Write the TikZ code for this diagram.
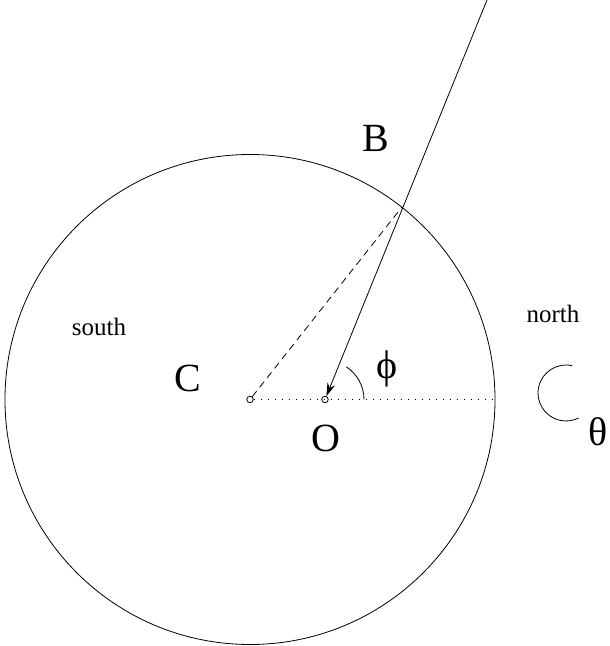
\documentclass[tikz,border=0pt]{standalone}
\usepackage{fontspec}
\setmainfont{Liberation Serif}
\usepackage{tikz}
\usetikzlibrary{arrows.meta}
\tikzset{
    dot/.style={circle, draw, fill=white, inner sep=0pt, minimum size=6.5pt, line width=0.8pt},
    edge/.style={draw, line width=0.8pt, -{Stealth[length=13pt, width=8pt]}},
    longdash/.style={dash pattern=on 7pt off 5pt},
    sparsedot/.style={dash pattern=on 1pt off 6pt},
    biglabel/.style={font=\fontsize{40}{40}\selectfont, inner sep=0pt},
    smalllabel/.style={font=\fontsize{25}{25}\selectfont, inner sep=0pt}
}

\begin{document}
\begin{tikzpicture}[x=1pt, y=1pt, line width=0.8pt]
    \useasboundingbox (0,0) rectangle (610,646);
    % circle
    \draw (250,246.5) circle (245);

    % Nodes
    \coordinate (top) at (487,646);
    \coordinate (hit) at (402,439);
    \coordinate (dotend) at (497,246.5);
    \coordinate (thetac) at (566,253);
    \node[dot] (C) at (250,246.5) {};
    \node[dot] (O) at (325,246.5) {};
    \node[biglabel] (Blab) at (376,508) {B};
    \node[biglabel] (Clab) at (188,268) {C};
    \node[biglabel] (Olab) at (326,208) {O};
    \node[biglabel] (philab) at (387,277) {ϕ};
    \node[biglabel] (thetalab) at (598,214) {θ};
    \node[smalllabel] (south) at (99,319) {south};
    \node[smalllabel] (north) at (553,332) {north};

    % edges
    \draw[sparsedot] (C) -- (dotend);
    \draw[longdash] (C) -- (hit);
    \draw[edge] (top) -- (O);

    % angles
    \draw (O.center) ++(39,0) arc (0:57:39);
    \draw (thetac) ++(77:28) arc (77:297:28);
\end{tikzpicture}
\end{document}
